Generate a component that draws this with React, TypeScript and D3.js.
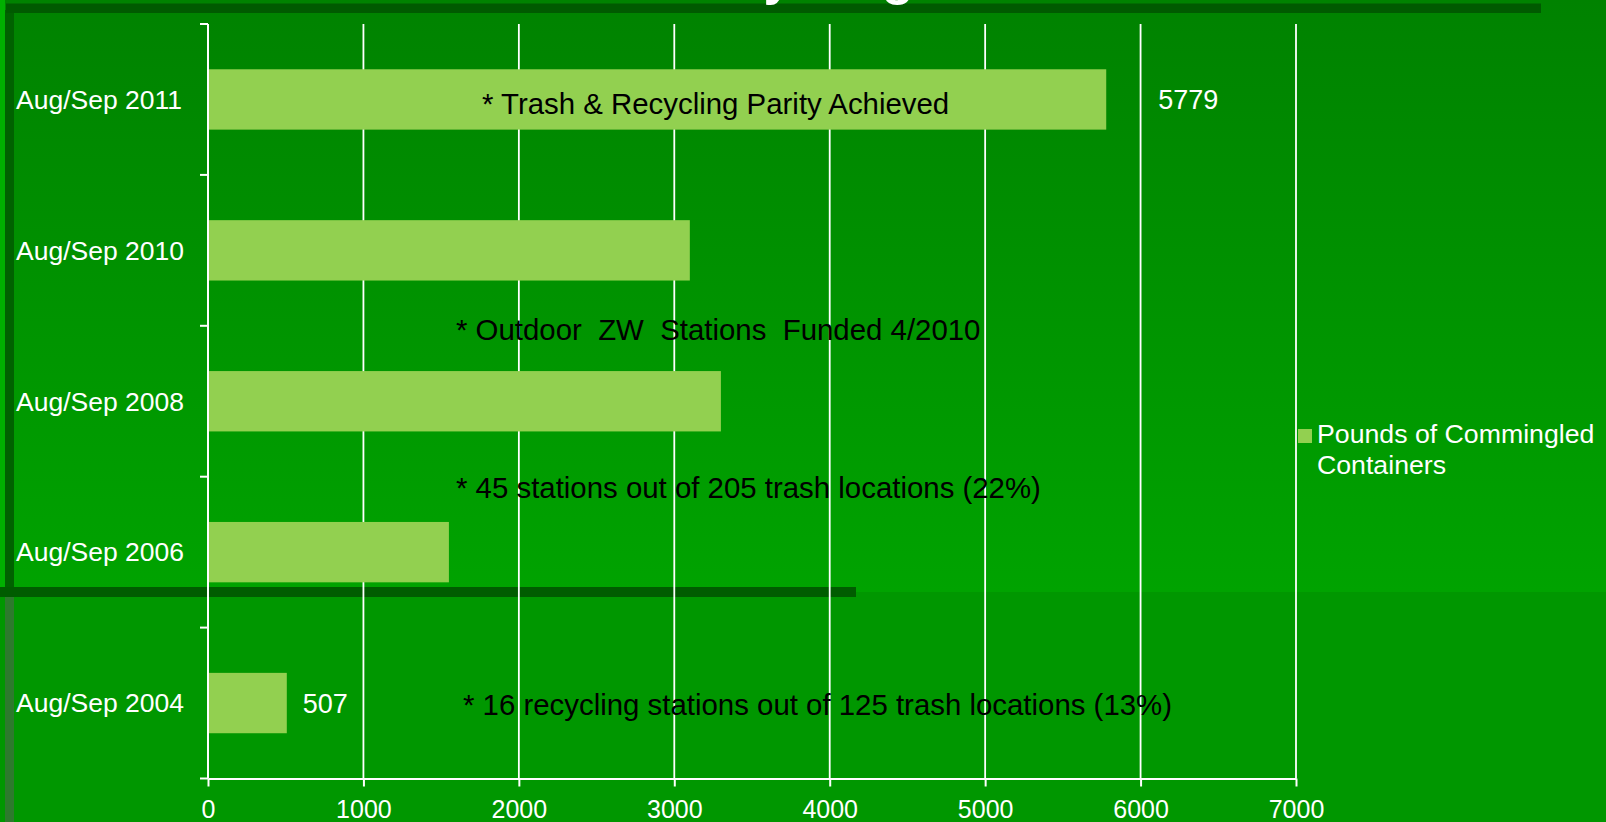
import { useEffect, useRef } from 'react';
import * as d3 from "d3";

// 카테고리 / 값
const categories = ["Aug/Sep 2011", "Aug/Sep 2010", "Aug/Sep 2008", "Aug/Sep 2006", "Aug/Sep 2004"];
const pounds = [5779, 3100, 3300, 1550, 507];
const xTicks = [0, 1000, 2000, 3000, 4000, 5000, 6000, 7000];
const shownLabels = ["5779", "", "", "", "507"];
const labelGaps = [52, 0, 0, 0, 16];
const seriesName = ["Pounds of Commingled", "Containers"];
const title = "Recycling";

// 텍스트 박스 메모
const notes = [
    "* Trash & Recycling Parity Achieved",
    "* Outdoor  ZW  Stations  Funded 4/2010",
    "* 45 stations out of 205 trash locations (22%)",
    "* 16 recycling stations out of 125 trash locations (13%)",
];
const notePos = [
    { x: 482, y: 104 },
    { x: 456, y: 330 },
    { x: 456, y: 488 },
    { x: 463, y: 705 },
];

const FONT = "'Liberation Sans', Arial, sans-serif";

const App: React.FC = () => {
    const ref = useRef<SVGSVGElement | null>(null);

    useEffect(() => {
        if (!ref.current) return;
        const width = 1606;
        const height = 822;
        const left = 208, right = 1296, top = 24, bottom = 778.5;

        const svg = d3.select(ref.current)
            .attr("width", width)
            .attr("height", height);
        svg.selectAll("*").remove();

        // 배경
        const defs = svg.append("defs");
        const grad = defs.append("linearGradient")
            .attr("id", "bg").attr("x1", 0).attr("y1", 0).attr("x2", 0).attr("y2", 1);
        grad.append("stop").attr("offset", "0").attr("stop-color", "#008200");
        grad.append("stop").attr("offset", "1").attr("stop-color", "#00a300");

        svg.append("rect").attr("width", width).attr("height", 592).attr("fill", "url(#bg)");
        svg.append("rect").attr("y", 592).attr("width", width).attr("height", height - 592).attr("fill", "#009700");
        svg.append("rect").attr("x", 0).attr("y", 0).attr("width", 5).attr("height", 592).attr("fill", "#00b000");
        svg.append("rect").attr("x", 5).attr("y", 10).attr("width", 9).attr("height", 580).attr("fill", "#006200");
        svg.append("rect").attr("x", 5).attr("y", 596).attr("width", 9).attr("height", 226).attr("fill", "#2d7a2d");
        svg.append("rect").attr("x", 6).attr("y", 3.5).attr("width", 1535).attr("height", 9.5).attr("fill", "#005a00");
        svg.append("rect").attr("x", 0).attr("y", 587).attr("width", 856).attr("height", 10).attr("fill", "#005c00");

        // 제목 (잘려 있음)
        svg.append("text")
            .attr("x", 668).attr("y", -6)
            .attr("fill", "white")
            .attr("font-family", FONT)
            .attr("font-weight", "bold")
            .attr("font-size", 52)
            .text(title);

        // 스케일
        const x = d3.scaleLinear().domain([0, 7000]).range([left, right]);
        const y = d3.scaleBand()
            .domain(categories)
            .range([top, bottom])
            .paddingInner(0.6)
            .paddingOuter(0.3);
        const step = y.step();

        const g = svg.append("g");

        // 격자선
        g.selectAll(".grid")
            .data(xTicks.filter(d => d > 0))
            .enter()
            .append("line")
            .attr("x1", d => x(d)).attr("x2", d => x(d))
            .attr("y1", top).attr("y2", bottom)
            .attr("stroke", "white")
            .attr("stroke-width", 1.8);

        // 막대
        g.selectAll(".bar")
            .data(pounds)
            .enter()
            .append("rect")
            .attr("x", x(0))
            .attr("y", (_, i) => y(categories[i]) || 0)
            .attr("width", d => x(d) - x(0))
            .attr("height", y.bandwidth())
            .attr("fill", "#92d050");

        // 세로축
        g.append("line")
            .attr("x1", left).attr("x2", left)
            .attr("y1", top).attr("y2", bottom)
            .attr("stroke", "white").attr("stroke-width", 2);
        const bounds = categories.map(c => (y(c) || 0) - step * 0.3);
        bounds.push(bottom);
        g.selectAll(".ytick")
            .data(bounds)
            .enter()
            .append("line")
            .attr("x1", left - 8).attr("x2", left)
            .attr("y1", d => d).attr("y2", d => d)
            .attr("stroke", "white").attr("stroke-width", 2);

        // 카테고리 라벨
        g.selectAll(".cat")
            .data(categories)
            .enter()
            .append("text")
            .attr("x", 16)
            .attr("y", d => (y(d) || 0) + y.bandwidth() / 2)
            .attr("dy", "0.35em")
            .attr("fill", "white")
            .attr("font-family", FONT)
            .attr("font-size", 26.5)
            .text(d => d);

        // 가로축
        const xAxis = g.append("g")
            .attr("transform", `translate(0, ${bottom})`)
            .call(d3.axisBottom(x).tickValues(xTicks).tickSize(8).tickSizeOuter(0).tickPadding(14).tickFormat(d => `${d}`));
        xAxis.select(".domain").attr("stroke", "white").attr("stroke-width", 2);
        xAxis.selectAll(".tick line").attr("stroke", "white").attr("stroke-width", 2);
        xAxis.selectAll(".tick text")
            .attr("fill", "white")
            .attr("font-family", FONT)
            .attr("font-size", 25);

        // 값 라벨
        g.selectAll(".val")
            .data(pounds)
            .enter()
            .append("text")
            .attr("x", (d, i) => x(d) + labelGaps[i])
            .attr("y", (_, i) => (y(categories[i]) || 0) + y.bandwidth() / 2)
            .attr("dy", "0.35em")
            .attr("fill", "white")
            .attr("font-family", FONT)
            .attr("font-size", 27)
            .text((_, i) => shownLabels[i]);

        // 메모
        g.selectAll(".note")
            .data(notes)
            .enter()
            .append("text")
            .attr("x", (_, i) => notePos[i].x)
            .attr("y", (_, i) => notePos[i].y)
            .attr("dy", "0.35em")
            .attr("fill", "black")
            .attr("font-family", FONT)
            .attr("font-size", 29.4)
            .attr("xml:space", "preserve")
            .style("white-space", "pre")
            .text(d => d);

        // 범례
        const legend = svg.append("g");
        legend.append("rect")
            .attr("x", 1298).attr("y", 429)
            .attr("width", 14).attr("height", 14)
            .attr("fill", "#92d050");
        legend.selectAll("text")
            .data(seriesName)
            .enter()
            .append("text")
            .attr("x", 1317)
            .attr("y", (_, i) => 443 + i * 31)
            .attr("fill", "white")
            .attr("font-family", FONT)
            .attr("font-size", 26.7)
            .text(d => d);
    }, []);

    return (
        <svg ref={ref} style={{ position: "absolute", left: 0, top: 0, display: "block" }}></svg>
    );
}

export default App;
